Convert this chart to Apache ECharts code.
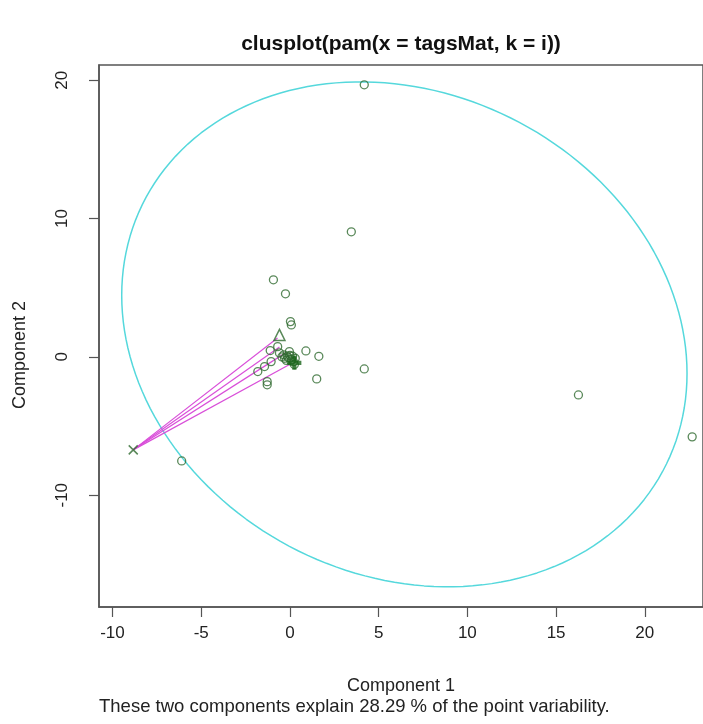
<!DOCTYPE html>
<html>
<head>
<meta charset="utf-8">
<script src="https://cdn.jsdelivr.net/npm/echarts@6/dist/echarts.min.js"></script>
<style>
  html, body { margin: 0; padding: 0; background: #ffffff; }
  #chart { width: 703px; height: 724px; }
</style>
</head>
<body>
<div id="chart"></div>
<script>
// Observations on the first two principal components (plotted as circles)
const pointX = [4.19, 3.46, -0.93, -0.25, 0.03, 0.08, 0.90, 1.63, 4.19, 1.51, 16.26, 22.67, -6.10,
                -0.69, -1.11, -0.59, -0.03, -1.81, -1.43, -1.06, -1.28, -1.28,
                -0.35, -0.10, 0.10, 0.20, -0.20, 0.00, 0.30, -0.45, -0.30, 0.05, 0.15, -0.15, 0.25];
const pointY = [19.67, 9.04, 5.57, 4.56, 2.55, 2.31, 0.43, 0.04, -0.87, -1.59, -2.75, -5.78, -7.52,
                0.74, 0.46, 0.29, 0.38, -1.06, -0.70, -0.34, -1.79, -2.02,
                0.15, -0.05, -0.20, -0.35, -0.25, 0.10, -0.10, 0.00, -0.10, -0.30, 0.05, 0.05, -0.55];

// Single-observation clusters drawn with their own symbols
const triangleX = [-0.59];
const triangleY = [1.59];
const plusX = [0.25];
const plusY = [-0.43];
const crossX = [-8.83];
const crossY = [-6.72];

// Distance segments from the isolated cluster towards the central clusters
const segEndX = [-0.70, -0.59, -0.25, 0.03];
const segEndY = [1.37, 0.72, 0.29, -0.51];

// Spanning ellipse of the large cluster: centre and shape (Cholesky factor)
const ellipseCenter = [6.45, 1.63];
const ellipseFactor = [15.93, -2.825, 18.03];

// Axis tick values
const xTicks = [-10, -5, 0, 5, 10, 15, 20];
const yTicks = [-10, 0, 10, 20];

const FONT = "'Liberation Sans', 'DejaVu Sans', Arial, sans-serif";
const AXIS_COLOR = '#555555';
const POINT_COLOR = '#2f6a2f';

// ellipse outline
const ellipsePts = [];
for (let d = 0; d <= 360; d += 2) {
  const t = d * Math.PI / 180;
  ellipsePts.push([
    ellipseCenter[0] + ellipseFactor[0] * Math.cos(t),
    ellipseCenter[1] + ellipseFactor[1] * Math.cos(t) + ellipseFactor[2] * Math.sin(t)
  ]);
}

const zip = (xs, ys) => xs.map((x, i) => [x, ys[i]]);

const segmentSeries = segEndX.map((x, i) => ({
  type: 'line',
  data: [[crossX[0], crossY[0]], [x, segEndY[i]]],
  showSymbol: false,
  silent: true,
  z: 3,
  lineStyle: { color: '#d94fd9', width: 1.2 }
}));

const chart = echarts.init(document.getElementById('chart'), null, { renderer: 'canvas' });

chart.setOption({
  animation: false,
  backgroundColor: '#ffffff',
  grid: {
    left: 99, right: -2, top: 65, bottom: 117,
    show: true, borderColor: AXIS_COLOR, borderWidth: 1.5, backgroundColor: 'transparent'
  },
  xAxis: {
    type: 'value',
    min: -10.76, max: 23.28,
    splitLine: { show: false },
    axisLine: { show: true, onZero: false, lineStyle: { color: AXIS_COLOR, width: 1.5 } },
    axisTick: { show: true, inside: false, length: 10, customValues: xTicks,
                lineStyle: { color: AXIS_COLOR, width: 1.2 } },
    axisLabel: { customValues: xTicks, margin: 18, fontSize: 17, color: '#222222', fontFamily: FONT }
  },
  yAxis: {
    type: 'value',
    min: -18.08, max: 21.1,
    splitLine: { show: false },
    axisLine: { show: true, onZero: false, lineStyle: { color: AXIS_COLOR, width: 1.5 } },
    axisTick: { show: true, inside: false, length: 10, customValues: yTicks,
                lineStyle: { color: AXIS_COLOR, width: 1.2 } },
    axisLabel: { customValues: yTicks, margin: 28, rotate: 90, fontSize: 17, color: '#222222', fontFamily: FONT }
  },
  graphic: [
    { type: 'text', x: 401, y: 44,
      style: { text: 'clusplot(pam(x = tagsMat, k = i))', fill: '#111111',
               font: 'bold 21px ' + FONT, textAlign: 'center', textVerticalAlign: 'middle' } },
    { type: 'text', x: 401, y: 686,
      style: { text: 'Component 1', fill: '#222222',
               font: '18px ' + FONT, textAlign: 'center', textVerticalAlign: 'middle' } },
    { type: 'text', x: 99, y: 707,
      style: { text: 'These two components explain 28.29 % of the point variability.', fill: '#222222',
               font: '18.5px ' + FONT, textAlign: 'left', textVerticalAlign: 'middle' } },
    { type: 'text', x: 20, y: 355, rotation: Math.PI / 2,
      style: { text: 'Component 2', fill: '#222222',
               font: '18px ' + FONT, textAlign: 'center', textVerticalAlign: 'middle' } }
  ],
  series: [
    {
      type: 'line',
      data: ellipsePts,
      showSymbol: false,
      silent: true,
      z: 2,
      lineStyle: { color: '#55d8dc', width: 1.5 }
    },
    ...segmentSeries,
    {
      type: 'scatter',
      data: zip(pointX, pointY),
      symbol: 'circle',
      symbolSize: 8,
      z: 4,
      itemStyle: { color: 'rgba(0,0,0,0)', borderColor: POINT_COLOR, borderWidth: 1.3 }
    },
    {
      type: 'scatter',
      data: zip(triangleX, triangleY),
      symbol: 'triangle',
      symbolSize: 11,
      z: 4,
      itemStyle: { color: 'rgba(0,0,0,0)', borderColor: POINT_COLOR, borderWidth: 1.5 }
    },
    {
      type: 'scatter',
      data: zip(plusX, plusY),
      symbol: 'path://M3.5,0H6.5V3.5H10V6.5H6.5V10H3.5V6.5H0V3.5H3.5Z',
      symbolSize: 14,
      z: 5,
      itemStyle: { color: '#1a651a' }
    },
    {
      type: 'scatter',
      data: zip(crossX, crossY),
      symbol: 'path://M0,0L10,10M10,0L0,10',
      symbolSize: 9,
      z: 5,
      itemStyle: { color: 'rgba(0,0,0,0)', borderColor: POINT_COLOR, borderWidth: 1.5 }
    }
  ]
});
</script>
</body>
</html>
